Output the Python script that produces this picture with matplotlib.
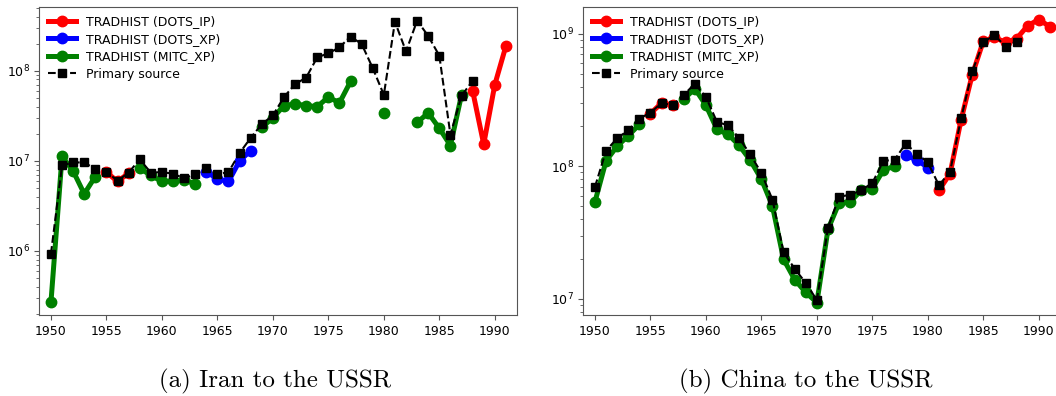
import numpy as np
import matplotlib
matplotlib.use("Agg")
import matplotlib.pyplot as plt

nan = np.nan
years = list(range(1950, 1992))

# ---------------- Iran to the USSR ----------------
iran_primary = [9.3e5, 8.9e6, 9.6e6, 9.6e6, 8.1e6, 7.6e6, 6.0e6, 7.4e6, 1.04e7, 7.4e6,
                7.5e6, 7.2e6, 6.4e6, 7.1e6, 8.3e6, 7.1e6, 7.5e6, 1.22e7, 1.8e7, 2.55e7,
                3.2e7, 5.1e7, 7.1e7, 8.4e7, 1.41e8, 1.56e8, 1.82e8, 2.4e8, 1.98e8, 1.07e8,
                5.4e7, 3.5e8, 1.64e8, 3.6e8, 2.43e8, 1.47e8, 1.95e7, 5.3e7, 7.7e7, nan,
                nan, nan]
iran_dots_ip = [nan, nan, nan, nan, nan, 7.5e6, 5.9e6, 7.3e6, nan, nan,
                nan, nan, nan, nan, nan, nan, nan, nan, nan, nan,
                nan, nan, nan, nan, nan, nan, nan, nan, nan, nan,
                nan, nan, nan, nan, nan, nan, nan, nan, 6.0e7, 1.53e7,
                7.0e7, 1.88e8]
iran_dots_xp = [nan, nan, nan, nan, nan, nan, nan, nan, nan, nan,
                nan, nan, nan, nan, 7.6e6, 6.3e6, 5.9e6, 1.0e7, 1.3e7, nan,
                nan, nan, nan, nan, nan, nan, nan, nan, nan, nan,
                nan, nan, nan, nan, nan, nan, nan, nan, nan, nan,
                nan, nan]
iran_mitc_xp = [2.7e5, 1.12e7, 7.7e6, 4.3e6, 6.7e6, nan, nan, nan, 8.3e6, 6.9e6,
                5.9e6, 5.9e6, 6.2e6, 5.5e6, nan, nan, nan, nan, nan, 2.35e7,
                3.0e7, 4.1e7, 4.3e7, 4.1e7, 4.0e7, 5.1e7, 4.4e7, 7.6e7, nan, nan,
                3.4e7, nan, nan, 2.67e7, 3.4e7, 2.3e7, 1.48e7, 5.4e7, nan, nan,
                nan, nan]

# ---------------- China to the USSR ----------------
china_primary = [7.0e7, 1.31e8, 1.63e8, 1.87e8, 2.29e8, 2.54e8, 3.0e8, 2.9e8, 3.45e8, 4.2e8,
                 3.33e8, 2.16e8, 2.04e8, 1.63e8, 1.23e8, 8.9e7, 5.6e7, 2.25e7, 1.69e7, 1.32e7,
                 9.8e6, 3.45e7, 5.9e7, 6.1e7, 6.6e7, 7.5e7, 1.1e8, 1.12e8, 1.48e8, 1.25e8,
                 1.07e8, 7.2e7, 9.1e7, 2.3e8, 5.2e8, 8.6e8, 9.8e8, 8.0e8, 8.7e8, nan,
                 nan, nan]
china_dots_ip = [nan, nan, nan, nan, nan, 2.5e8, 3.0e8, 2.9e8, nan, nan,
                 nan, nan, nan, nan, nan, nan, nan, nan, nan, nan,
                 nan, nan, nan, nan, nan, nan, nan, nan, nan, nan,
                 nan, 6.6e7, 8.8e7, 2.25e8, 4.9e8, 8.8e8, 9.4e8, 8.6e8, 9.2e8, 1.15e9,
                 1.28e9, 1.13e9]
china_dots_xp = [nan, nan, nan, nan, nan, nan, nan, nan, nan, nan,
                 nan, nan, nan, nan, nan, nan, nan, nan, nan, nan,
                 nan, nan, nan, nan, nan, nan, nan, nan, 1.21e8, 1.12e8,
                 9.8e7, nan, nan, nan, nan, nan, nan, nan, nan, nan,
                 nan, nan]
china_mitc_xp = [5.4e7, 1.1e8, 1.42e8, 1.7e8, 2.07e8, nan, nan, nan, 3.2e8, 3.86e8,
                 2.89e8, 1.9e8, 1.74e8, 1.44e8, 1.11e8, 8.0e7, 5.0e7, 1.99e7, 1.4e7, 1.12e7,
                 9.4e6, 3.35e7, 5.3e7, 5.4e7, 6.6e7, 6.8e7, 9.4e7, 1.0e8, nan, nan,
                 nan, nan, nan, nan, nan, nan, nan, nan, nan, nan,
                 nan, nan]

labels = ["TRADHIST (DOTS_IP)", "TRADHIST (DOTS_XP)", "TRADHIST (MITC_XP)", "Primary source"]
captions = ["(a) Iran to the USSR", "(b) China to the USSR"]
xticks = [1950, 1955, 1960, 1965, 1970, 1975, 1980, 1985, 1990]

W, H = 1056, 396
fig = plt.figure(figsize=(W / 100, H / 100), dpi=100)

def px_axes(x0, y0, x1, y1):
    return fig.add_axes([x0 / W, 1 - y1 / H, (x1 - x0) / W, (y1 - y0) / H])

ax1 = px_axes(39.3, 6.7, 517.0, 315.0)
ax2 = px_axes(583.3, 6.7, 1061.0, 315.0)

spine_col = "#555555"

def draw(ax, ip, xp, mitc, prim, ylim):
    ax.plot(years, ip, "-o", color="red", lw=3.6, ms=7.5, label=labels[0])
    ax.plot(years, xp, "-o", color="blue", lw=3.6, ms=7.5, label=labels[1])
    ax.plot(years, mitc, "-o", color="green", lw=3.6, ms=7.5, label=labels[2])
    ax.plot(years, prim, "--s", color="black", lw=1.5, ms=5.5, label=labels[3])
    ax.set_yscale("log")
    ax.set_xlim(1948.95, 1992.0)
    ax.set_ylim(*ylim)
    ax.set_xticks(xticks)
    ax.tick_params(labelsize=9, color=spine_col)
    ax.tick_params(which="minor", color=spine_col)
    for s in ax.spines.values():
        s.set_color(spine_col)
    ax.legend(loc="upper left", frameon=False, fontsize=9, handlelength=2.2,
              borderaxespad=0.3, labelspacing=0.35)

draw(ax1, iran_dots_ip, iran_dots_xp, iran_mitc_xp, iran_primary, (10 ** 5.289, 10 ** 8.711))
draw(ax2, china_dots_ip, china_dots_xp, china_mitc_xp, china_primary, (10 ** 6.879, 10 ** 9.204))

fig.text(275.5 / W, 1 - 387 / H, captions[0], ha="center", va="baseline", fontsize=18,
         family="cmr10")
fig.text(806 / W, 1 - 387 / H, captions[1], ha="center", va="baseline", fontsize=18,
         family="cmr10")

fig.savefig("out.png", dpi=100)
